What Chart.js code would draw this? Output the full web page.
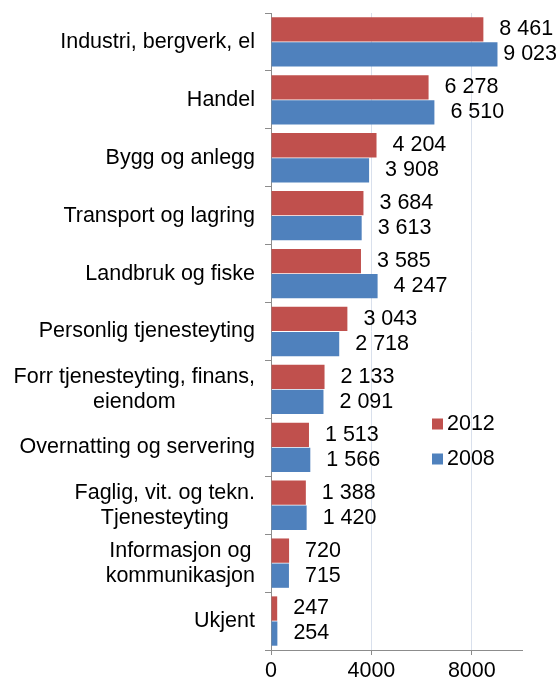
<!DOCTYPE html>
<html>
<head>
<meta charset="utf-8">
<script src="https://cdn.jsdelivr.net/npm/chart.js@4"></script>
<style>
html,body{margin:0;padding:0;background:#fff;}
canvas{display:block;}
</style>
</head>
<body>
<canvas id="c" width="560" height="681"></canvas>
<script>
const categories = [
  "Industri, bergverk, el",
  "Handel",
  "Bygg og anlegg",
  "Transport og lagring",
  "Landbruk og fiske",
  "Personlig tjenesteyting",
  ["Forr tjenesteyting, finans,", "eiendom"],
  "Overnatting og servering",
  ["Faglig, vit. og tekn.", "Tjenesteyting"],
  ["Informasjon og", "kommunikasjon"],
  "Ukjent"
];
const seriesNames = ["2012", "2008"];
const values2012 = [8461, 6278, 4204, 3684, 3585, 3043, 2133, 1513, 1388, 720, 247];
const values2008 = [9023, 6510, 3908, 3613, 4247, 2718, 2091, 1566, 1420, 715, 254];
const xTicks = [0, 4000, 8000];
const xMax = 10000;

const FONT = '"Liberation Sans", Arial, sans-serif';
const FS = 21.5;
const colors = ["#C0504D", "#4F81BD"];
const axisGrey = "#8C8C8C";

function fmt(v){ return String(v).replace(/\B(?=(\d{3})+(?!\d))/g, " "); }

const overlay = {
  id: "overlay",
  afterDraw(chart){
    const ctx = chart.ctx;
    const y = chart.scales.y;
    ctx.save();
    ctx.fillStyle = "#000";
    ctx.font = FS + "px " + FONT;
    ctx.textBaseline = "middle";
    // category labels
    const right = 255;
    const lh = 25;
    categories.forEach((lab, i) => {
      const lines = Array.isArray(lab) ? lab : [lab];
      const cy = y.getPixelForValue(i);
      const maxW = Math.max(...lines.map(l => ctx.measureText(l).width));
      const cx = right - maxW / 2;
      ctx.textAlign = "center";
      lines.forEach((l, k) => {
        const ly = cy + (k - (lines.length - 1) / 2) * lh;
        ctx.fillText(l, cx, ly);
      });
    });
    // data labels
    ctx.textAlign = "left";
    chart.data.datasets.forEach((ds, di) => {
      const meta = chart.getDatasetMeta(di);
      meta.data.forEach((bar, i) => {
        const t = fmt(ds.data[i]);
        const w = ctx.measureText(t).width;
        let x = bar.x + 16;
        if (x + w > chart.width - 3) x = chart.width - 3 - w;
        ctx.fillText(t, x, bar.y);
      });
    });
    // legend
    const lx = 432;
    const ly = [424, 459];
    seriesNames.forEach((n, k) => {
      ctx.fillStyle = colors[k];
      ctx.fillRect(lx, ly[k] - 5.5, 11, 11);
      ctx.fillStyle = "#000";
      ctx.fillText(n, lx + 15, ly[k]);
    });
    ctx.restore();
  }
};

new Chart(document.getElementById("c"), {
  type: "bar",
  data: {
    labels: categories,
    datasets: [
      { label: seriesNames[0], data: values2012, backgroundColor: colors[0], borderWidth: 0 },
      { label: seriesNames[1], data: values2008, backgroundColor: colors[1], borderWidth: 0 }
    ]
  },
  options: {
    indexAxis: "y",
    responsive: false,
    animation: false,
    devicePixelRatio: 1,
    layout: { padding: { top: 13, right: 38, left: 0, bottom: 0 } },
    datasets: { bar: { categoryPercentage: 0.865, barPercentage: 0.97 } },
    plugins: { legend: { display: false }, tooltip: { enabled: false } },
    scales: {
      x: {
        type: "linear",
        min: 0,
        max: xMax,
        afterBuildTicks(scale){ scale.ticks = xTicks.map(v => ({ value: v })); },
        afterFit(scale){ scale.height = 31; },
        ticks: {
          font: { family: FONT, size: FS },
          color: "#000",
          padding: 3,
          maxRotation: 0,
          autoSkip: false,
          callback: v => String(v)
        },
        grid: {
          color: ctx => (ctx.tick && ctx.tick.value === 0) ? "rgba(0,0,0,0)" : "#D9E0EC",
          lineWidth: 1,
          drawTicks: true,
          tickLength: 5,
          tickColor: axisGrey
        },
        border: { display: true, color: axisGrey, width: 1 }
      },
      y: {
        type: "category",
        position: "left",
        afterFit(scale){ scale.width = 271; },
        ticks: { display: false },
        grid: {
          offset: true,
          drawOnChartArea: false,
          drawTicks: true,
          tickLength: 6,
          tickColor: axisGrey,
          color: axisGrey
        },
        border: { display: true, color: axisGrey, width: 1 }
      }
    }
  },
  plugins: [overlay]
});
</script>
</body>
</html>
